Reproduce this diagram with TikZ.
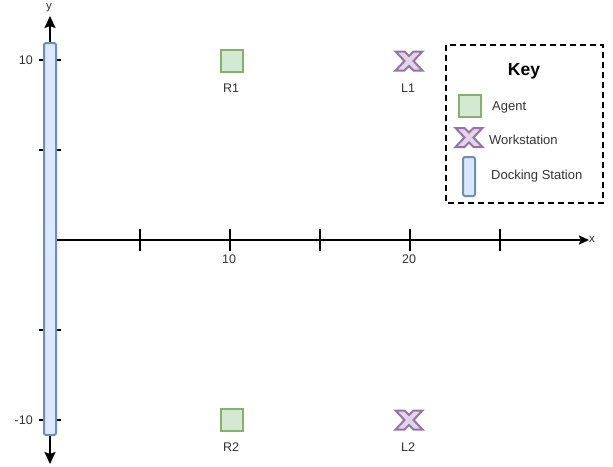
\documentclass[tikz,border=0pt]{standalone}
\usepackage{fontspec}
\setmainfont{Liberation Sans}
\usetikzlibrary{arrows.meta}
\definecolor{agentfill}{HTML}{D5E8D4}
\definecolor{agentline}{HTML}{82B366}
\definecolor{wsfill}{HTML}{E1D5E7}
\definecolor{wsline}{HTML}{9673A6}
\definecolor{dockfill}{HTML}{DAE8FC}
\definecolor{dockline}{HTML}{6C8EBF}
\definecolor{txt}{HTML}{333333}
\tikzset{
  axis/.style={line width=2pt, black},
  tickmark/.style={line width=2pt, black},
  lbl/.style={font=\fontsize{12.5}{14}\selectfont, text=txt, inner sep=0pt},
  klbl/.style={font=\fontsize{13}{15}\selectfont, text=txt, inner sep=0pt, anchor=west},
  agentbox/.style={draw=agentline, fill=agentfill, line width=2pt, minimum width=22pt, minimum height=22pt, inner sep=0pt},
  dockbox/.style={draw=dockline, fill=dockfill, line width=2pt, rounded corners=2pt},
  xmark/.style={draw=wsline, fill=wsfill, line width=2pt, line join=miter},
}
\newcommand{\wsshape}[2]{%
  \draw[xmark] (#1,#2) ++(-13.5,-9.5) -- ++(9,0) -- ++(4.5,4.5) -- ++(4.5,-4.5) -- ++(9,0) -- ++(-9,9.5)
    -- ++(9,9.5) -- ++(-9,0) -- ++(-4.5,-4.5) -- ++(-4.5,4.5) -- ++(-9,0) -- ++(9,-9.5) -- cycle;}
\begin{document}
\begin{tikzpicture}[x=1pt,y=-1pt]
\useasboundingbox (0,0) rectangle (613,466);
% axes
\coordinate (O) at (50,240);
\coordinate (xend) at (589,240);
\coordinate (ytop) at (50,16);
\coordinate (ybot) at (50,464);
\draw[axis,-{Stealth[length=10pt,width=9pt,inset=1.5pt]}] (O) -- (xend);
\draw[axis,{Stealth[length=12pt,width=11pt,inset=2pt]}-{Stealth[length=12pt,width=11pt,inset=2pt]}] (ytop) -- (ybot);
\node[lbl, anchor=west, font=\fontsize{11.5}{13}\selectfont] (xlab) at (589,239) {x};
\node[lbl, anchor=south, font=\fontsize{11.5}{13}\selectfont] (ylab) at (49,12) {y};
% x ticks
\foreach \t in {140,230,320,410,500} \draw[tickmark] (\t,229) -- (\t,251);
% y ticks
\foreach \t in {60,150,330,420} \draw[tickmark] (39,\t) -- (61,\t);
\node[lbl] (x10) at (229,259) {10};
\node[lbl] (x20) at (409,259) {20};
\node[lbl, anchor=east] (y10) at (33,60) {10};
\node[lbl, anchor=east] (ym10) at (33,420) {-10};
% docking station
\draw[dockbox] (44,43) rectangle (56,435);
% agents
\node[agentbox] (R1) at (231.5,60.5) {};
\node[agentbox] (R2) at (231.5,420) {};
\node[lbl] (R1l) at (231,88) {R1};
\node[lbl] (R2l) at (231,447) {R2};
% workstations
\wsshape{409}{61}
\wsshape{409}{420}
\node[lbl] (L1l) at (408,88) {L1};
\node[lbl] (L2l) at (408,447) {L2};
% key
\draw[line width=2pt, dash pattern=on 6pt off 4pt] (446,45) rectangle (603,203);
\node[font=\fontsize{17.5}{20}\selectfont\bfseries, inner sep=0pt] (key) at (524,71) {Key};
\node[agentbox] (kagent) at (469.5,106) {};
\node[klbl] (kagentl) at (492,107) {Agent};
\wsshape{469}{137.5}
\node[klbl] (kwsl) at (489,140) {Workstation};
\draw[dockbox] (463,157) rectangle (475,196);
\node[klbl] (kdockl) at (491,176) {Docking Station};
\end{tikzpicture}
\end{document}
